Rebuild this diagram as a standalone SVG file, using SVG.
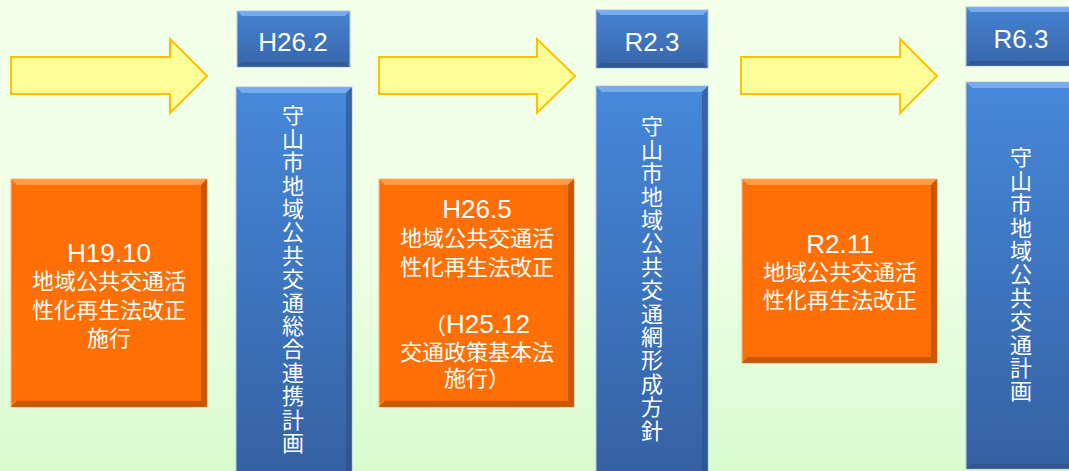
<svg xmlns="http://www.w3.org/2000/svg" width="1069" height="471" viewBox="0 0 1069 471">
<defs>
<linearGradient id="bg" x1="0" y1="0" x2="0" y2="1">
<stop offset="0" stop-color="#F3FFE9"/>
<stop offset="0.5" stop-color="#F0FFE6"/>
<stop offset="1" stop-color="#D7FBCF"/>
</linearGradient>
<linearGradient id="blueH" x1="0" y1="0" x2="0" y2="1">
<stop offset="0" stop-color="#4683D2"/>
<stop offset="1" stop-color="#3865A9"/>
</linearGradient>
<linearGradient id="blueT" x1="0" y1="0" x2="0" y2="1">
<stop offset="0" stop-color="#4688DA"/>
<stop offset="1" stop-color="#3561A3"/>
</linearGradient>
<style>
.arrow{fill:#FFFF99;stroke:#FFC000;stroke-width:2;stroke-linejoin:miter}
.bh{fill:url(#blueH);stroke:#B9C9DB;stroke-width:1}
.bt{fill:url(#blueT);stroke:#B9C9DB;stroke-width:1}
.or{fill:#FE7006;stroke:#F2B58A;stroke-width:1}
.hiB{fill:#7FB3F2;opacity:0.85}
.loB{fill:#2C4F86;opacity:0.6}
.hiO{fill:#FFA24F;opacity:0.9}
.loO{fill:#B84E00;opacity:0.75}
.lat{font-family:"Liberation Sans","Noto Sans CJK JP",sans-serif;font-size:26px;fill:#FFFFFF;text-anchor:middle}
.cjk{font-family:"Noto Sans CJK JP",sans-serif;font-size:22px;fill:#FFFFFF;text-anchor:middle}
.vt{font-family:"Noto Sans CJK JP",sans-serif;font-size:22px;fill:#FFFFFF;writing-mode:vertical-rl;letter-spacing:1.4px}
</style>
</defs>
<rect x="0" y="0" width="1069" height="471" fill="url(#bg)"/>
<g id="connectors">
<polygon class="arrow" points="11,57 170,57 170,39 207,76 170,113 170,94 11,94"/>
<polygon class="arrow" points="379,57 537,57 537,39 575,76 537,113 537,94 379,94"/>
<polygon class="arrow" points="741,57 900,57 900,39 937,76 900,113 900,94 741,94"/>
</g>
<g id="orange1">
<rect class="or" x="11" y="179" width="196" height="228"/>
<polygon class="hiO" points="11,179 207,179 201,185 17,185"/>
<polygon class="loO" points="207,179 207,407 201,401 201,185"/>
<polygon class="loO" points="11,407 207,407 201,401 17,401"/>
<text class="lat" x="109" y="262">H19.10</text>
<text class="cjk" x="109" y="289">地域公共交通活</text>
<text class="cjk" x="109" y="318">性化再生法改正</text>
<text class="cjk" x="109" y="346">施行</text>
</g>
<g id="header1">
<rect class="bh" x="237" y="11" width="113" height="56"/>
<polygon class="hiB" points="237,11 350,11 345,16 242,16"/>
<polygon class="loB" points="237,67 350,67 345,62 242,62"/>
<text class="lat" x="293" y="51">H26.2</text>
</g>
<g id="plan1">
<rect class="bt" x="236" y="87" width="116" height="386"/>
<polygon class="hiB" points="236,87 352,87 346,93 242,93"/>
<polygon class="loB" points="352,87 352,473 346,473 346,93"/>
<text class="vt" x="293" y="104">守山市地域公共交通総合連携計画</text>
</g>
<g id="orange2">
<rect class="or" x="379" y="179" width="195" height="228"/>
<polygon class="hiO" points="379,179 574,179 568,185 385,185"/>
<polygon class="loO" points="574,179 574,407 568,401 568,185"/>
<polygon class="loO" points="379,407 574,407 568,401 385,401"/>
<text class="lat" x="477" y="218">H26.5</text>
<text class="cjk" x="477" y="246">地域公共交通活</text>
<text class="cjk" x="477" y="275">性化再生法改正</text>
<text class="lat" x="477" y="333"><tspan font-family="Noto Sans CJK JP" font-size="22">（</tspan>H25.12</text>
<text class="cjk" x="477" y="360">交通政策基本法</text>
<text class="cjk" x="477" y="386">施行）</text>
</g>
<g id="header2">
<rect class="bh" x="596" y="10" width="112" height="58"/>
<polygon class="hiB" points="596,10 708,10 703,15 601,15"/>
<polygon class="loB" points="596,68 708,68 703,63 601,63"/>
<text class="lat" x="652" y="51">R2.3</text>
</g>
<g id="plan2">
<rect class="bt" x="596" y="86" width="112" height="387"/>
<polygon class="hiB" points="596,86 708,86 702,92 602,92"/>
<polygon class="loB" points="708,86 708,473 702,473 702,92"/>
<text class="vt" x="652" y="115">守山市地域公共交通網形成方針</text>
</g>
<g id="orange3">
<rect class="or" x="742" y="179" width="195" height="184"/>
<polygon class="hiO" points="742,179 937,179 931,185 748,185"/>
<polygon class="loO" points="937,179 937,363 931,357 931,185"/>
<polygon class="loO" points="742,363 937,363 931,357 748,357"/>
<text class="lat" x="840" y="253">R2.11</text>
<text class="cjk" x="840" y="280">地域公共交通活</text>
<text class="cjk" x="840" y="308">性化再生法改正</text>
</g>
<g id="header3">
<rect class="bh" x="966" y="7" width="110" height="59"/>
<polygon class="hiB" points="966,7 1076,7 1076,12 971,12"/>
<polygon class="loB" points="966,66 1076,66 1076,61 971,61"/>
<text class="lat" x="1021" y="48">R6.3</text>
</g>
<g id="plan3">
<rect class="bt" x="966" y="82" width="110" height="387"/>
<polygon class="hiB" points="966,82 1076,82 1076,88 972,88"/>
<polygon class="loB" points="966,469 1076,469 1076,464 972,464"/>
<text class="vt" x="1021" y="146">守山市地域公共交通計画</text>
</g>
</svg>
